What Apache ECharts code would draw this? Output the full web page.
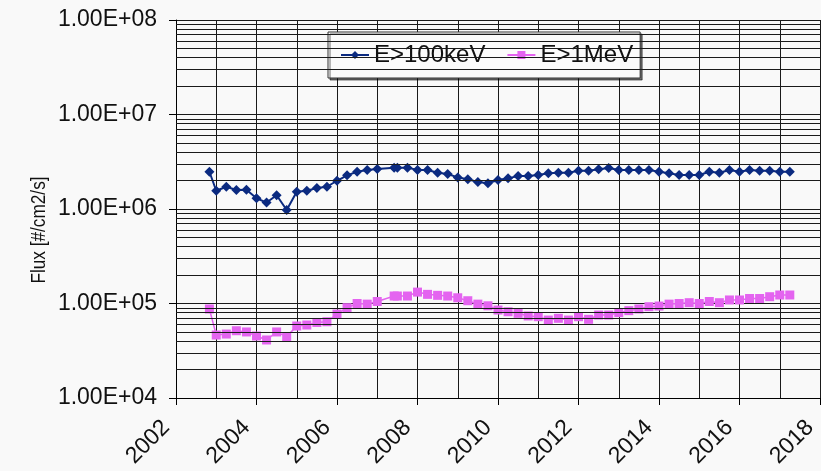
<!DOCTYPE html>
<html>
<head>
<meta charset="utf-8">
<title>Flux</title>
<script src="https://cdn.jsdelivr.net/npm/echarts@6/dist/echarts.min.js"></script>
<style>
  html, body { margin: 0; padding: 0; background: #f9f9f9; }
  #chart { width: 821px; height: 471px; }
</style>
</head>
<body>
<div id="chart"></div>
<script>
// Sample times (decimal years), quarterly with an early first sample
const years = [
  2002.83, 2003.0, 2003.25, 2003.5, 2003.75, 2004.0, 2004.25, 2004.5, 2004.75,
  2005.0, 2005.25, 2005.5, 2005.75, 2006.0, 2006.25, 2006.5, 2006.75, 2007.0,
  2007.42, 2007.5, 2007.75,
  2008.0, 2008.25, 2008.5, 2008.75, 2009.0, 2009.25, 2009.5, 2009.75,
  2010.0, 2010.25, 2010.5, 2010.75, 2011.0, 2011.25, 2011.5, 2011.75,
  2012.0, 2012.25, 2012.5, 2012.75, 2013.0, 2013.25, 2013.5, 2013.75,
  2014.0, 2014.25, 2014.5, 2014.75, 2015.0, 2015.25, 2015.5, 2015.75,
  2016.0, 2016.25, 2016.5, 2016.75, 2017.0, 2017.25
];

// E>100keV flux [#/cm2/s]
const flux100keV = [
  2.48e6, 1.56e6, 1.72e6, 1.59e6, 1.60e6, 1.30e6, 1.17e6, 1.40e6, 0.975e6,
  1.52e6, 1.56e6, 1.67e6, 1.72e6, 1.99e6, 2.27e6, 2.48e6, 2.59e6, 2.65e6,
  2.74e6, 2.74e6, 2.74e6,
  2.59e6, 2.59e6, 2.42e6, 2.35e6, 2.16e6, 2.06e6, 1.93e6, 1.87e6,
  2.03e6, 2.11e6, 2.23e6, 2.23e6, 2.29e6, 2.39e6, 2.42e6, 2.42e6,
  2.54e6, 2.54e6, 2.63e6, 2.72e6, 2.59e6, 2.59e6, 2.59e6, 2.59e6,
  2.48e6, 2.39e6, 2.29e6, 2.29e6, 2.29e6, 2.48e6, 2.42e6, 2.59e6,
  2.48e6, 2.59e6, 2.54e6, 2.54e6, 2.48e6, 2.48e6
];

// E>1MeV flux [#/cm2/s]
const flux1MeV = [
  8.75e4, 4.64e4, 4.75e4, 5.15e4, 5.00e4, 4.53e4, 4.11e4, 5.00e4, 4.46e4,
  5.78e4, 5.92e4, 6.30e4, 6.41e4, 7.74e4, 9.03e4, 1.00e5, 9.85e4, 1.05e5,
  1.20e5, 1.20e5, 1.20e5,
  1.32e5, 1.25e5, 1.22e5, 1.20e5, 1.15e5, 1.07e5, 9.85e4, 9.46e4,
  8.53e4, 8.18e4, 7.87e4, 7.38e4, 7.25e4, 6.68e4, 6.97e4, 6.68e4,
  7.25e4, 6.80e4, 7.55e4, 7.55e4, 8.00e4, 8.40e4, 8.75e4, 9.25e4,
  9.40e4, 9.85e4, 1.00e5, 1.02e5, 1.00e5, 1.05e5, 1.02e5, 1.09e5,
  1.09e5, 1.13e5, 1.13e5, 1.18e5, 1.23e5, 1.23e5
];

const seriesNames = ['E>100keV', 'E>1MeV'];
const yAxisName = 'Flux [#/cm2/s]';

const FONT = '"Liberation Sans", Arial, sans-serif';
const GRID_COLOR = '#1a1a1a';

// Intermediate log gridlines at 2..9 x each decade
const minorGrid = [];
for (let d = 1e4; d < 1e8; d *= 10) {
  for (let k = 2; k <= 9; k++) minorGrid.push({ yAxis: k * d });
}

function sci(v) {
  const e = Math.round(Math.log10(v));
  const m = v / Math.pow(10, e);
  const sign = e < 0 ? '-' : '+';
  return m.toFixed(2) + 'E' + sign + String(Math.abs(e)).padStart(2, '0');
}

const chart = echarts.init(document.getElementById('chart'), null, { renderer: 'canvas' });

chart.setOption({
  backgroundColor: '#f9f9f9',
  animation: false,
  grid: { left: 176, right: 1, top: 20, bottom: 73, containLabel: false },
  // vertical axis title, slightly condensed along its reading direction
  graphic: [{
    type: 'text',
    x: 39,
    y: 230,
    rotation: Math.PI / 2,
    scaleX: 0.86,
    style: {
      text: yAxisName,
      font: '20px "Liberation Sans", Arial, sans-serif',
      fill: '#111',
      align: 'center',
      verticalAlign: 'middle'
    },
    silent: true
  }],
  legend: {
    data: seriesNames,
    left: 328,
    top: 32,
    itemWidth: 28,
    itemHeight: 10,
    itemGap: 21,
    padding: [11, 7, 11, 12],
    backgroundColor: '#fbfbfb',
    borderColor: '#333',
    borderWidth: 1,
    shadowColor: 'rgba(0,0,0,0.55)',
    shadowOffsetX: 2,
    shadowOffsetY: 2,
    shadowBlur: 0,
    textStyle: { fontFamily: FONT, fontSize: 24, color: '#111' }
  },
  xAxis: {
    type: 'value',
    min: 2002,
    max: 2018,
    interval: 2,
    axisLine: { show: true, lineStyle: { color: '#000', width: 1 } },
    axisTick: { show: true, length: 7, lineStyle: { color: '#000' } },
    minorTick: { show: false, splitNumber: 2 },
    splitLine: { show: true, lineStyle: { color: GRID_COLOR, width: 1 } },
    minorSplitLine: { show: true, lineStyle: { color: GRID_COLOR, width: 1 } },
    axisLabel: {
      rotate: 45,
      margin: 16,
      padding: [0, 14, 0, 0],
      fontFamily: FONT,
      fontSize: 23,
      color: '#111',
      formatter: v => String(Math.round(v))
    }
  },
  yAxis: {
    type: 'log',
    logBase: 10,
    min: 1e4,
    max: 1e8,
    axisLine: { show: true, lineStyle: { color: '#000', width: 1 } },
    axisTick: { show: true, length: 7, lineStyle: { color: '#000' } },
    splitLine: { show: true, lineStyle: { color: GRID_COLOR, width: 1 } },
    axisLabel: {
      margin: 19,
      fontFamily: FONT,
      fontSize: 23,
      color: '#111',
      formatter: v => sci(v)
    }
  },
  series: [
    {
      name: 'grid',
      type: 'line',
      data: [],
      z: 1,
      silent: true,
      markLine: {
        silent: true,
        animation: false,
        symbol: ['none', 'none'],
        label: { show: false },
        emphasis: { disabled: true },
        lineStyle: { color: GRID_COLOR, width: 1, type: 'solid' },
        data: minorGrid
      }
    },
    {
      name: seriesNames[0],
      type: 'line',
      z: 4,
      data: years.map((t, i) => [t, flux100keV[i]]),
      symbol: 'diamond',
      symbolSize: [10, 10],
      showAllSymbol: true,
      color: '#0b2a80',
      lineStyle: { color: '#0b2a80', width: 2 },
      itemStyle: { color: '#0b2a80' },
      emphasis: { disabled: true }
    },
    {
      name: seriesNames[1],
      type: 'line',
      z: 3,
      data: years.map((t, i) => [t, flux1MeV[i]]),
      symbol: 'rect',
      symbolSize: 9,
      showAllSymbol: true,
      color: '#e464f0',
      lineStyle: { color: '#e464f0', width: 1.5 },
      itemStyle: { color: '#e464f0' },
      emphasis: { disabled: true }
    }
  ]
});
</script>
</body>
</html>
